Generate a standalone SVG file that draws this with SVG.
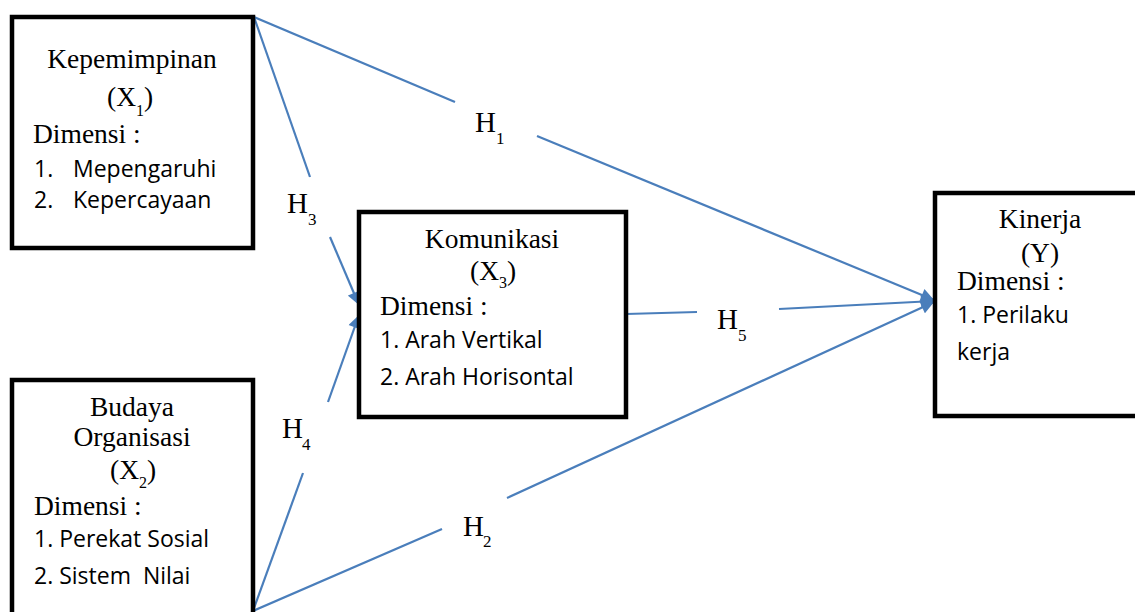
<svg xmlns="http://www.w3.org/2000/svg" width="1135" height="612" viewBox="0 0 1135 612">
  <style>
    .box { fill: #ffffff; stroke: #000000; stroke-width: 4.5; }
    .serif { font-family: "Liberation Serif", "Times New Roman", serif; font-size: 27.5px; fill: #000; }
    .sans { font-family: "Open Sans", "Liberation Sans", sans-serif; font-size: 23px; fill: #000; }
    .sub { font-size: 16px; }
    .hlab { font-family: "Liberation Serif", "Times New Roman", serif; font-size: 29px; fill: #000; }
    .hsub { font-family: "Liberation Serif", "Times New Roman", serif; font-size: 17px; fill: #000; }
    .link { fill: none; stroke: #4A7EBB; stroke-width: 2.2; }
  </style>
  <defs>
    <marker id="arrow" viewBox="0 0 10 10" refX="10" refY="5" markerWidth="15" markerHeight="13" markerUnits="userSpaceOnUse" orient="auto">
      <path d="M0,0 L10,5 L0,10 Z" fill="#4A7EBB"/>
    </marker>
  </defs>
  <rect width="1135" height="612" fill="#ffffff"/>

  <!-- connectors -->
  <g id="connectors">
    <!-- H1 -->
    <line class="link" x1="254" y1="17" x2="455" y2="102"/>
    <line class="link" x1="537" y1="136" x2="934" y2="300" marker-end="url(#arrow)"/>
    <!-- H3 -->
    <line class="link" x1="254" y1="17" x2="310" y2="177"/>
    <line class="link" x1="330" y1="237" x2="359" y2="305" marker-end="url(#arrow)"/>
    <!-- H4 -->
    <line class="link" x1="253" y1="611" x2="303" y2="473"/>
    <line class="link" x1="328" y1="402" x2="359" y2="315" marker-end="url(#arrow)"/>
    <!-- H2 -->
    <line class="link" x1="253" y1="611" x2="442" y2="529"/>
    <line class="link" x1="507" y1="498" x2="934" y2="302" marker-end="url(#arrow)"/>
    <!-- H5 -->
    <line class="link" x1="626" y1="314" x2="697" y2="312"/>
    <line class="link" x1="779" y1="309" x2="934" y2="301" marker-end="url(#arrow)"/>

    <!-- hypothesis labels -->
    <text class="hlab" x="475" y="132">H</text><text class="hsub" x="496" y="144">1</text>
    <text class="hlab" x="287" y="213">H</text><text class="hsub" x="308" y="225">3</text>
    <text class="hlab" x="282" y="438">H</text><text class="hsub" x="302" y="450">4</text>
    <text class="hlab" x="717" y="329">H</text><text class="hsub" x="738" y="341">5</text>
    <text class="hlab" x="463" y="536">H</text><text class="hsub" x="483" y="547">2</text>
  </g>

  <!-- Kepemimpinan (X1) -->
  <g id="node-x1">
    <rect class="box" x="12" y="17" width="241" height="231"/>
    <text class="serif" x="132" y="68" text-anchor="middle">Kepemimpinan</text>
    <text class="serif" x="107" y="106">(X<tspan class="sub" dy="10">1</tspan><tspan dy="-10">)</tspan></text>
    <text class="serif" x="33" y="143">Dimensi :</text>
    <text class="sans" x="34" y="177">1.</text>
    <text class="sans" x="73" y="177">Mepengaruhi</text>
    <text class="sans" x="34" y="208">2.</text>
    <text class="sans" x="73" y="208">Kepercayaan</text>
  </g>

  <!-- Budaya Organisasi (X2) -->
  <g id="node-x2">
    <rect class="box" x="12" y="380" width="241" height="250"/>
    <text class="serif" x="132" y="416" text-anchor="middle">Budaya</text>
    <text class="serif" x="132" y="446" text-anchor="middle">Organisasi</text>
    <text class="serif" x="110" y="479">(X<tspan class="sub" dy="9">2</tspan><tspan dy="-9">)</tspan></text>
    <text class="serif" x="34" y="515">Dimensi :</text>
    <text class="sans" x="34" y="547">1. Perekat Sosial</text>
    <text class="sans" x="34" y="584" xml:space="preserve">2. Sistem  Nilai</text>
  </g>

  <!-- Komunikasi (X3) -->
  <g id="node-x3">
    <rect class="box" x="359" y="212" width="267" height="205"/>
    <text class="serif" x="492" y="248" text-anchor="middle">Komunikasi</text>
    <text class="serif" x="470" y="280">(X<tspan class="sub" dy="8">3</tspan><tspan dy="-8">)</tspan></text>
    <text class="serif" x="380" y="315">Dimensi :</text>
    <text class="sans" x="380" y="348">1. Arah Vertikal</text>
    <text class="sans" x="380" y="385">2. Arah Horisontal</text>
  </g>

  <!-- Kinerja (Y) -->
  <g id="node-y">
    <rect class="box" x="935" y="193" width="215" height="223"/>
    <text class="serif" x="1040" y="228" text-anchor="middle">Kinerja</text>
    <text class="serif" x="1040" y="262" text-anchor="middle">(Y)</text>
    <text class="serif" x="957" y="290">Dimensi :</text>
    <text class="sans" x="957" y="323">1. Perilaku</text>
    <text class="sans" x="957" y="360">kerja</text>
  </g>
</svg>
